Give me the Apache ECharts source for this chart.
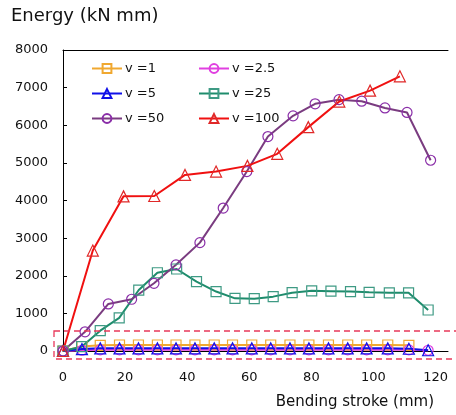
<!DOCTYPE html>
<html><head><meta charset="utf-8">
<script src="https://cdn.jsdelivr.net/npm/echarts@6/dist/echarts.min.js"></script>
<style>html,body{margin:0;padding:0;background:#fff}#c{width:456px;height:415px}</style>
</head><body><div id="c"></div>
<script>
// ---- data ----
const yTicks = [0, 1000, 2000, 3000, 4000, 5000, 6000, 7000, 8000];
const xTicks = [0, 20, 40, 60, 80, 100, 120];
const seriesNames = ['v =1', 'v =2.5', 'v =5', 'v =25', 'v =50', 'v =100'];

const strokeA = [0, 6.1, 12.0, 18.2, 24.3, 30.4, 36.4, 42.5, 48.7, 54.6, 60.8, 66.9, 73.1, 79.2, 85.5, 91.7, 97.8, 104.6, 111.4, 117.6];
const strokeV1 = [0, 6.1, 12.0, 18.2, 24.3, 30.4, 36.4, 42.5, 48.7, 54.6, 60.8, 66.9, 73.1, 79.2, 85.5, 91.7, 97.8, 104.6, 111.4];
const energyV1 = [0, 120, 150, 160, 160, 160, 160, 160, 160, 160, 160, 160, 160, 160, 160, 160, 160, 160, 150];
const energyV2_5 = [0, 20, 30, 30, 30, 30, 30, 30, 30, 30, 30, 30, 30, 30, 30, 30, 30, 30, 30, 20];
const energyV5 = [0, 50, 70, 70, 70, 70, 70, 70, 70, 70, 70, 70, 70, 70, 70, 70, 70, 70, 60, 20];
const strokeV25 = [0, 6.0, 12.0, 18.1, 24.4, 30.4, 36.6, 43.0, 49.3, 55.4, 61.6, 67.7, 73.8, 80.1, 86.3, 92.6, 98.6, 105.1, 111.3, 117.6];
const energyV25 = [0, 115, 540, 880, 1620, 2080, 2180, 1845, 1580, 1400, 1390, 1445, 1550, 1600, 1590, 1580, 1560, 1545, 1545, 1090];
const strokeV50 = [0, 7.1, 14.6, 22.1, 29.3, 36.4, 44.1, 51.6, 59.2, 66.0, 74.1, 81.2, 88.9, 96.2, 103.7, 110.8, 118.4];
const energyV50 = [0, 510, 1250, 1375, 1800, 2290, 2880, 3800, 4770, 5700, 6250, 6570, 6680, 6640, 6460, 6340, 5070];
const strokeV100 = [0, 9.6, 19.5, 29.4, 39.3, 49.3, 59.4, 69.0, 79.0, 89.0, 98.9, 108.5];
const energyV100 = [0, 2670, 4110, 4120, 4680, 4770, 4920, 5240, 5950, 6630, 6920, 7300];

// ---- styling ----
const FONT = 'DejaVu Sans';
const pair = (xs, ys) => xs.map((x, i) => [x, ys[i]]);
function mk(name, xs, ys, color, symbol, lineColor, borderColor) {
  return {
    name, type: 'line', data: pair(xs, ys), symbol, symbolSize: symbol === 'triangle' ? 11 : 10,
    lineStyle: { color: lineColor || color, width: 2 },
    itemStyle: { color: 'rgba(255,255,255,0)', borderColor: borderColor || color, borderWidth: 1.2 },
    emphasis: { disabled: true }, animation: false, clip: false
  };
}
const series = [
  mk(seriesNames[0], strokeV1, energyV1, '#F0A830', 'rect'),
  mk(seriesNames[1], strokeA, energyV2_5, '#E040E0', 'circle'),
  mk(seriesNames[2], strokeA, energyV5, '#1010E8', 'triangle'),
  mk(seriesNames[3], strokeV25, energyV25, '#1E8C6C', 'rect', '#1E8C6C', '#3E9A84'),
  mk(seriesNames[4], strokeV50, energyV50, '#7A3C80', 'circle', '#7A3C80', '#8A2EA8'),
  mk(seriesNames[5], strokeV100, energyV100, '#F01010', 'triangle', '#F01010', '#E02828')
];

const legendBase = {
  orient: 'vertical', itemWidth: 30, itemHeight: 11, itemGap: 12, padding: 0,
  textStyle: { fontFamily: FONT, fontSize: 13, color: '#111', padding: [0, 0, 0, -2] },
  selectedMode: false
};

const chart = echarts.init(document.getElementById('c'), null, { renderer: 'canvas' });
chart.setOption({
  animation: false,
  backgroundColor: '#fff',
  title: [
    { text: 'Energy (kN mm)', left: 11, top: 7, padding: 0,
      textStyle: { fontFamily: FONT, fontSize: 18, fontWeight: 'normal', color: '#111' } },
    { text: 'Bending stroke (mm)', right: 22, top: 395, padding: 0,
      textStyle: { fontFamily: FONT, fontSize: 15, fontWeight: 'normal', color: '#111' } }
  ],
  legend: [
    Object.assign({}, legendBase, { left: 91, top: 62, data: [seriesNames[0], seriesNames[2], seriesNames[4]] }),
    Object.assign({}, legendBase, { left: 198, top: 62, data: [seriesNames[1], seriesNames[3], seriesNames[5]] })
  ],
  grid: { left: 63, right: 8, top: 50, bottom: 64 },
  xAxis: [
    { type: 'value', min: 0, max: 124, interval: 20,
      axisLine: { lineStyle: { color: '#000', width: 1 } },
      axisTick: { show: false },
      splitLine: { show: false },
      axisLabel: { customValues: xTicks, margin: 20, fontFamily: FONT, fontSize: 13, color: '#111',
        formatter: v => String(v) } },
    { type: 'value', min: 0, max: 124, position: 'top',
      axisLine: { show: true, onZero: false, lineStyle: { color: '#000', width: 1 } },
      axisTick: { show: false }, axisLabel: { show: false }, splitLine: { show: false } }
  ],
  yAxis: {
    type: 'value', min: 0, max: 8000, interval: 1000,
    axisLine: { show: true, lineStyle: { color: '#000', width: 1 } },
    axisTick: { show: true, inside: true, length: 4, customValues: yTicks, lineStyle: { color: '#000' } },
    splitLine: { show: false },
    axisLabel: { customValues: yTicks, margin: 15, fontFamily: FONT, fontSize: 13, color: '#111',
      formatter: v => String(v) }
  },
  graphic: [
    { type: 'rect', silent: true, z: 100,
      shape: { x: 54, y: 331, width: 420, height: 28 },
      style: { fill: 'none', stroke: '#E8385A', lineWidth: 1.3, lineDash: [6, 4] } }
  ],
  series
});
</script></body></html>
